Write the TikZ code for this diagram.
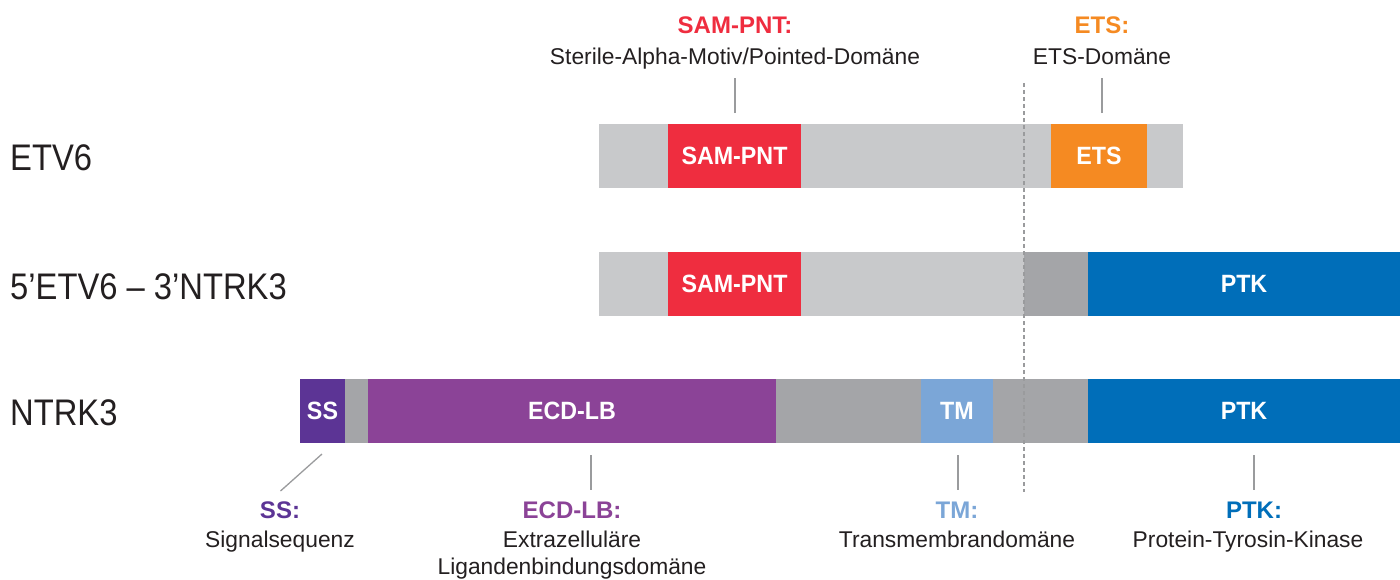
\documentclass[tikz,border=0pt]{standalone}
\usepackage{fontspec}
\setmainfont{Liberation Sans}
\newfontfamily\rowfont{Liberation Sans}[FakeStretch=0.885]
\newfontfamily\boxfont{Liberation Sans}[FakeStretch=0.93]
\newfontfamily\ttlfont{Liberation Sans}
\definecolor{lgrey}{HTML}{C8C9CB}
\definecolor{dgrey}{HTML}{A4A5A8}
\definecolor{samred}{HTML}{EF2D3F}
\definecolor{etsorange}{HTML}{F58A22}
\definecolor{ptkblue}{HTML}{006EB9}
\definecolor{sspurple}{HTML}{5C3495}
\definecolor{ecdpurple}{HTML}{8B4397}
\definecolor{tmblue}{HTML}{7BA6D7}
\definecolor{txt}{HTML}{231F20}
\definecolor{leadgrey}{HTML}{9A9B9D}
\begin{document}
\begin{tikzpicture}[x=1pt,y=-1pt,
  seg/.style={anchor=west, inner sep=0pt, outer sep=0pt, minimum height=64pt,
    text=white, font=\boxfont\bfseries\fontsize{25}{25}\selectfont},
  rowlabel/.style={anchor=base west, inner sep=0pt, text=txt,
    font=\rowfont\fontsize{37}{37}\selectfont},
  ttl/.style={anchor=base, inner sep=0pt, font=\ttlfont\bfseries\fontsize{24}{24}\selectfont},
  desc/.style={anchor=base, inner sep=0pt, text=txt, font=\fontsize{22.8}{22.8}\selectfont},
  leader/.style={draw=leadgrey, line width=1.3pt},
  cutline/.style={draw=leadgrey, line width=1.3pt, dash pattern=on 4pt off 3pt},
]
\useasboundingbox (0,0) rectangle (1400,579);

% row labels
\node[rowlabel] (lETV) at (10,170) {ETV6};
\node[rowlabel] (lFUS) at (10,299) {5’ETV6 – 3’NTRK3};
\node[rowlabel] (lNTRK) at (10,425) {NTRK3};

% ETV6
\node[seg, fill=lgrey, minimum width=69pt] (a1) at (599,156) {};
\node[seg, fill=samred, minimum width=133pt] (sam1) at (668,156) {SAM-PNT};
\node[seg, fill=lgrey, minimum width=250pt] (a2) at (801,156) {};
\node[seg, fill=etsorange, minimum width=96pt] (ets1) at (1051,156) {ETS};
\node[seg, fill=lgrey, minimum width=36pt] (a3) at (1147,156) {};

% fusion
\node[seg, fill=lgrey, minimum width=69pt] (b1) at (599,284) {};
\node[seg, fill=samred, minimum width=133pt] (sam2) at (668,284) {SAM-PNT};
\node[seg, fill=lgrey, minimum width=223pt] (b2) at (801,284) {};
\node[seg, fill=dgrey, minimum width=64pt] (b3) at (1024,284) {};
\node[seg, fill=ptkblue, minimum width=312pt] (ptk2) at (1088,284) {PTK};

% NTRK3
\node[seg, fill=sspurple, minimum width=45pt] (ss3) at (300,411) {SS};
\node[seg, fill=dgrey, minimum width=23pt] (c1) at (345,411) {};
\node[seg, fill=ecdpurple, minimum width=408pt] (ecd3) at (368,411) {ECD-LB};
\node[seg, fill=dgrey, minimum width=145pt] (c2) at (776,411) {};
\node[seg, fill=tmblue, minimum width=72pt] (tm3) at (921,411) {TM};
\node[seg, fill=dgrey, minimum width=95pt] (c3) at (993,411) {};
\node[seg, fill=ptkblue, minimum width=312pt] (ptk3) at (1088,411) {PTK};

% cut line
\coordinate (cutTop) at (1024,83);
\coordinate (cutBot) at (1024,492);
\draw[cutline] (cutTop) -- (cutBot);

% top labels
\node[ttl, text=samred] (samT) at (735,33) {SAM-PNT:};
\node[desc] (samD) at (735,64) {Sterile-Alpha-Motiv/Pointed-Domäne};
\node[ttl, text=etsorange] (etsT) at (1102,33) {ETS:};
\node[desc] (etsD) at (1102,64) {ETS-Domäne};
\draw[leader] ([xshift=0.5pt,yshift=11pt]sam1.north) -- ([xshift=0.5pt,yshift=46pt]sam1.north);
\draw[leader] ([xshift=3pt,yshift=11pt]ets1.north) -- ([xshift=3pt,yshift=46pt]ets1.north);

% bottom labels
\node[ttl, text=sspurple] (ssT) at (280,518) {SS:};
\node[desc] (ssD) at (280,547) {Signalsequenz};
\node[ttl, text=ecdpurple] (ecdT) at (572,518) {ECD-LB:};
\node[desc] (ecdD) at (572,547) {Extrazelluläre};
\node[desc] (ecdD2) at (572,574) {Ligandenbindungsdomäne};
\node[ttl, text=tmblue] (tmT) at (957,518) {TM:};
\node[desc] (tmD) at (957,547) {Transmembrandomäne};
\node[ttl, text=ptkblue] (ptkT) at (1254,518) {PTK:};
\node[desc] (ptkD) at (1248,547) {Protein-Tyrosin-Kinase};

\draw[leader] ([xshift=-0.5pt,yshift=-11pt]ss3.south) -- ([xshift=-42pt,yshift=-48pt]ss3.south);
\draw[leader] ([xshift=19pt,yshift=-12pt]ecd3.south) -- ([xshift=19pt,yshift=-47pt]ecd3.south);
\draw[leader] ([xshift=1pt,yshift=-12pt]tm3.south) -- ([xshift=1pt,yshift=-47pt]tm3.south);
\draw[leader] ([xshift=10pt,yshift=-12pt]ptk3.south) -- ([xshift=10pt,yshift=-47pt]ptk3.south);
\end{tikzpicture}
\end{document}
